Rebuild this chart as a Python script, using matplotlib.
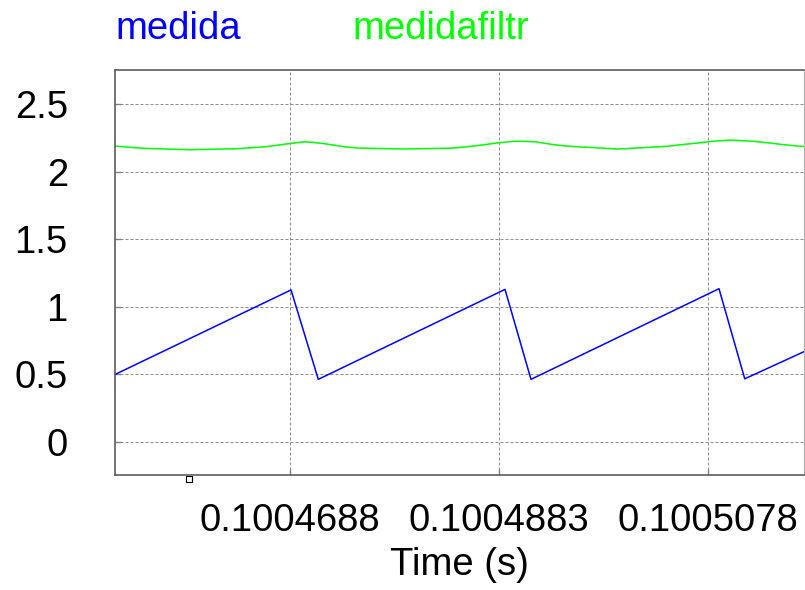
import matplotlib.pyplot as plt

plt.rcParams['font.family'] = ['Liberation Sans', 'DejaVu Sans']

# medida: sawtooth corners (s, value)
t_medida = [0.10045236, 0.10046882, 0.10047137, 0.10048883, 0.10049126,
            0.10050884, 0.10051125, 0.10051679]
medida = [0.500, 1.126, 0.464, 1.130, 0.464, 1.135, 0.468, 0.669]

# medidafiltr: filtered signal
t_filtr = [0.10045236, 0.10045385, 0.10045516, 0.10045937, 0.10046367,
           0.10046517, 0.10046648, 0.10046751, 0.10046835, 0.10046928,
           0.10047003, 0.10047078, 0.10047181, 0.10047274, 0.10047377,
           0.10047508, 0.10047948, 0.10048397, 0.10048528, 0.10048640,
           0.10048743, 0.10048827, 0.10048986, 0.10049163, 0.10049257,
           0.10049360, 0.10049491, 0.10049715, 0.10049940, 0.10050173,
           0.10050398, 0.10050529, 0.10050678, 0.10050819, 0.10050996,
           0.10051212, 0.10051361, 0.10051492, 0.10051623, 0.10051679]
medidafiltr = [2.191, 2.181, 2.174, 2.164, 2.171, 2.179, 2.186, 2.197, 2.206,
               2.215, 2.222, 2.219, 2.210, 2.199, 2.186, 2.176, 2.169, 2.176,
               2.186, 2.196, 2.207, 2.216, 2.227, 2.223, 2.211, 2.199, 2.189,
               2.179, 2.169, 2.179, 2.189, 2.201, 2.213, 2.226, 2.235, 2.226,
               2.213, 2.201, 2.191, 2.188]

x_ticks = [0.10046875, 0.10048828125, 0.1005078125]
x_labels = ['0.1004688', '0.1004883', '0.1005078']
y_ticks = [0, 0.5, 1, 1.5, 2, 2.5]
y_labels = ['0', '0.5', '1', '1.5', '2', '2.5']
cursor_t = 0.10045928

FS = 27.5

fig = plt.figure(figsize=(8.05, 5.9), dpi=100)
ax = fig.add_axes([115 / 805, 1 - 475 / 590, 689 / 805, 405 / 590])

ax.plot(t_medida, medida, color='#0000ff', lw=1.1)
ax.plot(t_filtr, medidafiltr, color='#00ff00', lw=1.1)

ax.set_xlim(0.10045236, 0.10051679)
ax.set_ylim(-0.244, 2.754)
ax.set_xticks(x_ticks, x_labels)
ax.set_yticks(y_ticks, y_labels)
ax.grid(True, color='#8c8c8c', lw=0.72, linestyle=(0, (3, 2)))
ax.tick_params(direction='in', length=4, width=1, color='#808080',
               labelsize=FS)
ax.tick_params(axis='y', pad=34)
ax.tick_params(axis='x', pad=20)

for side in ['left', 'bottom', 'top']:
    ax.spines[side].set_color('#505050')
    ax.spines[side].set_linewidth(1.1)
ax.spines['right'].set_color('#b0b0b0')
ax.spines['right'].set_linewidth(0.8)

ax.set_xlabel('Time (s)', fontsize=FS, labelpad=6)

# small cursor marker under the time axis
ax.plot([cursor_t], [-0.011], marker='s', ms=5, mfc='white', mec='black',
        mew=0.8, transform=ax.get_xaxis_transform(), clip_on=False)

fig.text(115 / 805, 1 - 39 / 590, 'medida', color='#0000ff', fontsize=FS,
         va='baseline')
fig.text(352 / 805, 1 - 39 / 590, 'medidafiltr', color='#00ff00',
         fontsize=FS, va='baseline')

fig.savefig('out.png', dpi=100)
